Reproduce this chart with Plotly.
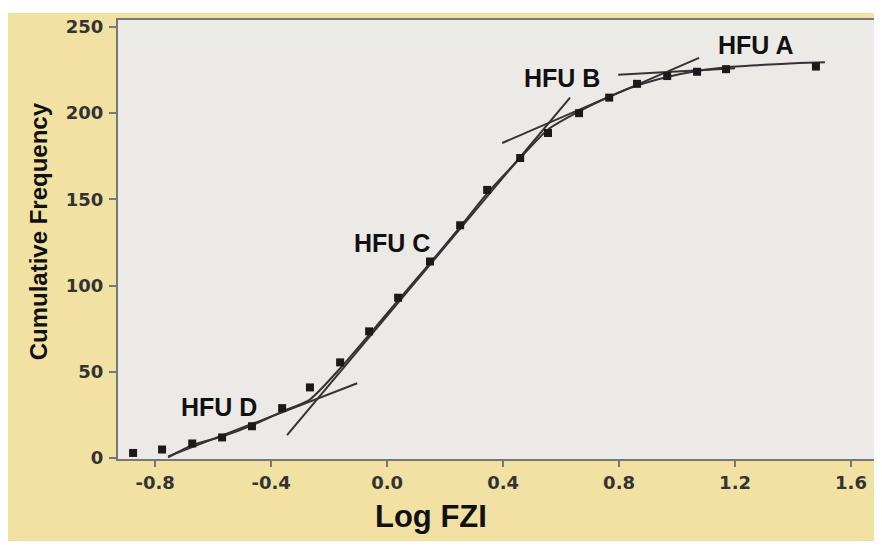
import plotly.graph_objects as go

# Data
log_fzi = [-0.876, -0.776, -0.672, -0.569, -0.466, -0.362, -0.266, -0.162, -0.062,
           0.038, 0.148, 0.252, 0.345, 0.459, 0.555, 0.662, 0.766, 0.862, 0.966,
           1.069, 1.169, 1.479]
cum_freq = [3, 5, 8.5, 12, 18.5, 29, 41, 55.5, 73.5, 93, 114, 135, 155.5, 174,
            188.5, 200, 209, 217, 221.5, 224, 225.5, 227]

fit_x = [-0.755, -0.672, -0.569, -0.466, -0.362, -0.266, -0.162, -0.062, 0.038,
         0.148, 0.252, 0.345, 0.459, 0.555, 0.662, 0.766, 0.862, 0.966, 1.069,
         1.169, 1.30, 1.42, 1.51]
fit_y = [0.5, 7.5, 12.5, 19, 27, 34, 52, 71.5, 91.5, 113, 134, 153.5, 174, 190.5, 201,
         209.5, 216, 221, 224.5, 226.5, 228, 229, 229.5]

hfu_names = ["HFU A", "HFU B", "HFU C", "HFU D"]
hfu_line_x = [[0.797, 1.20], [0.397, 1.076], [-0.345, 0.631], [-0.755, -0.103]]
hfu_line_y = [[222.3, 226.0], [182.7, 232.0], [13.3, 209.0], [1.0, 43.4]]
hfu_label_x = [1.269, 0.603, 0.017, -0.579]
hfu_label_y = [239.5, 220.5, 125.0, 29.5]

x_ticks = [-0.8, -0.4, 0.0, 0.4, 0.8, 1.2, 1.6]
y_ticks = [0, 50, 100, 150, 200, 250]

BEIGE = "#F1E2A3"
PLOTBG = "#ECEAE7"
LINE = "#333333"
FONT = "Liberation Sans, Arial"

fig = go.Figure()

fig.add_trace(go.Scatter(x=fit_x, y=fit_y, mode="lines",
                         line=dict(color=LINE, width=2, shape="spline", smoothing=0.6),
                         hoverinfo="skip", showlegend=False))
for name, lx, ly in zip(hfu_names, hfu_line_x, hfu_line_y):
    fig.add_trace(go.Scatter(x=lx, y=ly, mode="lines", name=name,
                             line=dict(color=LINE, width=2), showlegend=False))
fig.add_trace(go.Scatter(x=log_fzi, y=cum_freq, mode="markers",
                         marker=dict(symbol="square", size=8, color="#1a1a1a"),
                         showlegend=False))

for name, tx, ty in zip(hfu_names, hfu_label_x, hfu_label_y):
    fig.add_annotation(x=tx, y=ty, text=name, showarrow=False,
                       font=dict(family=FONT, size=25, color="#111111", weight="bold"))

# beige panel behind, then gray plot area
fig.add_shape(type="rect", xref="paper", yref="paper", x0=-0.1447, x1=1.0026, y0=-0.1868, y1=1.016,
              fillcolor=BEIGE, line=dict(width=0), layer="below")
fig.add_shape(type="rect", xref="paper", yref="paper", x0=0, x1=1, y0=0, y1=1,
              fillcolor=PLOTBG, line=dict(width=0), layer="below")

# axis titles
fig.add_annotation(xref="paper", yref="paper", x=0.412, y=-0.132, text="Log FZI", showarrow=False,
                   xanchor="center", yanchor="middle",
                   font=dict(family=FONT, size=31, color="#111111", weight="bold"))
fig.add_annotation(xref="paper", yref="paper", x=-0.105, y=0.519, text="Cumulative Frequency",
                   showarrow=False, textangle=-90, xanchor="center", yanchor="middle",
                   font=dict(family=FONT, size=24, color="#111111", weight="bold"))

tickfont = dict(family="DejaVu Sans", size=18, color="#333333", weight="bold")
fig.update_xaxes(range=[-0.928, 1.693], tickvals=x_ticks, ticktext=[f"{v:.1f}" for v in x_ticks],
                 showgrid=False, zeroline=False, showline=True, linecolor="#777777", linewidth=2,
                 mirror=True, ticks="outside", ticklen=6, tickwidth=1.5, tickcolor="#777777",
                 tickfont=tickfont, automargin=False, ticklabelstandoff=0)
fig.update_yaxes(range=[-0.5, 254], tickvals=y_ticks, showgrid=False, zeroline=False,
                 showline=True, linecolor="#777777", linewidth=2, mirror=True,
                 ticks="outside", ticklen=7, tickwidth=1.5, tickcolor="#777777", tickfont=tickfont,
                 automargin=False, ticklabelstandoff=2)

# the page adds an 8px body margin, so the figure is sized/placed to compensate
fig.update_layout(width=874, height=540, paper_bgcolor="white", plot_bgcolor=PLOTBG,
                  margin=dict(l=110, r=4, t=12, b=89, autoexpand=False), showlegend=False)

fig.write_html("out.html")
